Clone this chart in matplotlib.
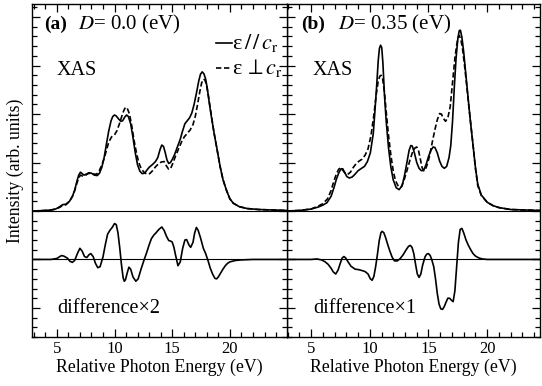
import matplotlib
matplotlib.use("Agg")
import matplotlib.pyplot as plt
from matplotlib.ticker import MultipleLocator, NullFormatter

plt.rcParams['font.family'] = ['Liberation Serif', 'DejaVu Serif']
plt.rcParams['mathtext.fontset'] = 'stix'
plt.rcParams['font.size'] = 12

# ---------------- data ----------------
# Panel (a): D = 0.0 eV, epsilon // c_r (solid)
a_par_x = [3.0, 4.0, 4.5, 4.9, 5.2, 5.5, 5.8, 6.1, 6.35, 6.55, 6.75, 6.9, 7.05, 7.2, 7.35, 7.55, 7.8,
           8.0, 8.25, 8.5, 8.7, 8.9, 9.1, 9.3, 9.5, 9.7, 9.85, 10.0, 10.15, 10.35, 10.55, 10.7, 10.9,
           11.05, 11.2, 11.4, 11.6, 11.8, 12.0, 12.2, 12.4, 12.6, 12.8, 13.0, 13.3, 13.55, 13.75,
           13.95, 14.1, 14.25, 14.4, 14.55, 14.7, 14.85, 15.0, 15.2, 15.45, 15.7, 15.9, 16.1, 16.3,
           16.5, 16.7, 16.9, 17.1, 17.3, 17.45, 17.6, 17.75, 17.9, 18.05, 18.2, 18.4, 18.65, 18.9,
           19.15, 19.4, 19.7, 20.0, 20.3, 20.8, 21.5, 22.5, 24.95]
a_par_y = [0.0, 0.01, 0.02, 0.04, 0.08, 0.13, 0.14, 0.2, 0.3, 0.43, 0.62, 0.74, 0.8, 0.77, 0.74, 0.76,
           0.79, 0.78, 0.74, 0.73, 0.78, 0.9, 1.1, 1.38, 1.65, 1.86, 1.95, 1.98, 1.96, 1.9, 1.85, 1.86,
           1.94, 1.98, 1.95, 1.8, 1.52, 1.2, 0.95, 0.82, 0.77, 0.78, 0.84, 0.9, 0.96, 1.02, 1.1,
           1.27, 1.36, 1.33, 1.2, 1.05, 0.98, 1.0, 1.06, 1.16, 1.32, 1.48, 1.65, 1.8, 1.86,
           1.92, 2.02, 2.2, 2.43, 2.68, 2.82, 2.87, 2.83, 2.72, 2.52, 2.25, 1.94, 1.58, 1.26,
           0.92, 0.65, 0.43, 0.25, 0.16, 0.09, 0.05, 0.03, 0.01]

# Panel (a): epsilon perp c_r (dashed)
a_perp_x = [3.0, 4.0, 4.5, 4.9, 5.2, 5.5, 5.8, 6.1, 6.35, 6.55, 6.75, 6.9, 7.05, 7.25, 7.45, 7.7, 7.95,
            8.2, 8.45, 8.7, 8.9, 9.1, 9.3, 9.5, 9.75, 10.0, 10.2, 10.4, 10.6, 10.8, 10.95, 11.1, 11.3,
            11.5, 11.7, 11.9, 12.1, 12.3, 12.55, 12.8, 13.05, 13.3, 13.55, 13.8, 14.05, 14.3, 14.5,
            14.7, 14.85, 15.05, 15.3, 15.55, 15.8, 16.05, 16.3, 16.55, 16.8, 17.0, 17.2, 17.4, 17.55,
            17.7, 17.85, 18.0, 18.15, 18.35, 18.6, 18.9, 19.15, 19.4, 19.7, 20.0, 20.3, 20.8, 21.5,
            22.5, 24.95]
a_perp_y = [0.0, 0.01, 0.02, 0.04, 0.07, 0.11, 0.13, 0.2, 0.3, 0.42, 0.58, 0.68, 0.74, 0.72, 0.73,
            0.77, 0.78, 0.76, 0.76, 0.84, 0.95, 1.08, 1.25, 1.42, 1.53, 1.57, 1.65, 1.78, 1.93, 2.07,
            2.14, 2.12, 2.0, 1.75, 1.45, 1.2, 1.0, 0.88, 0.8, 0.76, 0.77, 0.83, 0.91, 0.97, 1.01,
            1.02, 0.93, 0.86, 0.87, 0.98, 1.14, 1.28, 1.42, 1.53, 1.6, 1.67, 1.78, 1.95, 2.2, 2.47,
            2.64, 2.72, 2.7, 2.56, 2.36, 2.04, 1.65, 1.25, 0.92, 0.65, 0.43, 0.25, 0.16, 0.09, 0.05,
            0.03, 0.01]

# Panel (a): difference x2 (relative to its own baseline)
a_diff_x = [2.85, 4.5, 5.0, 5.2, 5.4, 5.6, 5.9, 6.15, 6.35, 6.55, 6.8, 7.0, 7.2, 7.4, 7.6, 7.8, 7.95,
            8.15, 8.35, 8.55, 8.75, 9.0, 9.2, 9.4, 9.6, 9.8, 10.0, 10.15, 10.3, 10.45, 10.6, 10.75,
            10.85, 10.95, 11.1, 11.25, 11.4, 11.6, 11.85, 12.05, 12.3, 12.55, 12.8, 13.0, 13.2, 13.4,
            13.6, 13.85, 14.1, 14.3, 14.5, 14.7, 14.85, 15.0, 15.15, 15.3, 15.5, 15.7, 15.9, 16.1,
            16.25, 16.45, 16.6, 16.8, 16.95, 17.1, 17.25, 17.45, 17.7, 17.9, 18.1, 18.3, 18.5, 18.7,
            18.85, 19.0, 19.2, 19.4, 19.6, 19.8, 20.0, 20.5, 21.0, 22.0, 24.95]
a_diff_y = [0.0, 0.0, 0.02, 0.05, 0.08, 0.07, 0.03, -0.04, -0.06, -0.02, 0.13, 0.23, 0.17, 0.06, 0.04,
            0.1, 0.12, 0.06, -0.08, -0.17, -0.15, 0.05, 0.3, 0.52, 0.6, 0.66, 0.74, 0.72, 0.55, 0.25,
            -0.1, -0.38, -0.45, -0.42, -0.28, -0.16, -0.2, -0.36, -0.45, -0.4, -0.2, -0.02, 0.15,
            0.3, 0.43, 0.5, 0.55, 0.62, 0.67, 0.6, 0.48, 0.39, 0.38, 0.36, 0.25, 0.08, -0.13, -0.05,
            0.22, 0.4, 0.41, 0.3, 0.25, 0.35, 0.55, 0.66, 0.6, 0.45, 0.23, 0.12, -0.02, -0.18, -0.3,
            -0.39, -0.4, -0.36, -0.28, -0.2, -0.13, -0.08, -0.05, -0.02, -0.01, 0.0, 0.0]

# Panel (b): D = 0.35 eV, epsilon // c_r (solid)
b_par_x = [2.95, 4.0, 5.0, 5.6, 6.0, 6.35, 6.7, 6.95, 7.15, 7.35, 7.55, 7.7, 7.85, 8.05, 8.25, 8.5,
           8.75, 9.0, 9.3, 9.55, 9.8, 10.05, 10.3, 10.45, 10.6, 10.72, 10.82, 10.92, 11.02, 11.12,
           11.25, 11.4, 11.6, 11.8, 12.0, 12.25, 12.5, 12.75, 12.95, 13.15, 13.35, 13.5, 13.62,
           13.8, 14.0, 14.2, 14.4, 14.6, 14.8, 15.0, 15.2, 15.4, 15.55, 15.75, 15.95, 16.15, 16.35,
           16.55, 16.75, 16.9, 17.05, 17.2, 17.35, 17.5, 17.62, 17.72, 17.85, 18.0, 18.15, 18.35,
           18.55, 18.75, 19.0, 19.2, 19.5, 20.0, 20.5, 21.0, 22.0, 24.5]
b_par_y = [0.0, 0.01, 0.04, 0.08, 0.12, 0.17, 0.3, 0.48, 0.65, 0.78, 0.87, 0.87, 0.8, 0.71, 0.68, 0.7,
           0.76, 0.83, 0.88, 0.92, 1.02, 1.2, 1.6, 2.1, 2.63, 3.1, 3.35, 3.42, 3.37, 3.05, 2.4,
           1.85, 1.3, 0.9, 0.64, 0.48, 0.44, 0.52, 0.72, 0.98, 1.25, 1.35, 1.34, 1.2, 1.0, 0.88,
           0.83, 0.84, 0.96, 1.12, 1.25, 1.32, 1.31, 1.2, 1.03, 0.92, 0.88, 0.92, 1.1, 1.35, 1.85,
           2.55, 3.15, 3.55, 3.72, 3.73, 3.58, 3.28, 2.9, 2.4, 1.9, 1.46, 0.9, 0.55, 0.33, 0.18,
           0.11, 0.07, 0.03, 0.01]

# Panel (b): epsilon perp c_r (dashed)
b_perp_x = [2.95, 4.0, 5.0, 5.6, 6.0, 6.4, 6.7, 6.95, 7.15, 7.35, 7.5, 7.7, 7.9, 8.1, 8.35, 8.6, 8.85,
            9.1, 9.35, 9.6, 9.85, 10.1, 10.35, 10.55, 10.72, 10.85, 10.97, 11.1, 11.25, 11.4, 11.6,
            11.8, 12.0, 12.2, 12.45, 12.7, 12.9, 13.15, 13.4, 13.65, 13.85, 14.0, 14.15, 14.3, 14.45,
            14.6, 14.75, 14.95, 15.15, 15.35, 15.55, 15.75, 15.95, 16.1, 16.25, 16.45, 16.65, 16.85,
            17.05, 17.25, 17.4, 17.52, 17.62, 17.75, 17.9, 18.05, 18.2, 18.4, 18.6, 18.8, 19.0, 19.2,
            19.5, 20.0, 20.5, 21.0, 22.0, 24.5]
b_perp_y = [0.0, 0.01, 0.04, 0.1, 0.15, 0.25, 0.42, 0.62, 0.76, 0.86, 0.89, 0.84, 0.78, 0.75, 0.8,
            0.9, 0.98, 1.03, 1.07, 1.15, 1.28, 1.55, 1.98, 2.4, 2.68, 2.78, 2.8, 2.72, 2.45, 2.05,
            1.55, 1.15, 0.82, 0.62, 0.5, 0.5, 0.62, 0.82, 1.03, 1.22, 1.3, 1.32, 1.25, 1.08, 0.9,
            0.83, 0.86, 1.0, 1.2, 1.45, 1.68, 1.88, 2.01, 2.0, 1.92, 1.85, 1.92, 2.15, 2.65, 3.15,
            3.42, 3.58, 3.62, 3.55, 3.35, 3.05, 2.72, 2.25, 1.8, 1.35, 0.88, 0.52, 0.32, 0.18, 0.11,
            0.07, 0.03, 0.01]

# Panel (b): difference x1 (relative to its own baseline)
b_diff_x = [2.95, 5.0, 5.5, 5.9, 6.2, 6.45, 6.7, 6.9, 7.1, 7.3, 7.5, 7.65, 7.8, 7.95, 8.15, 8.4, 8.75,
            9.05, 9.35, 9.6, 9.85, 10.05, 10.2, 10.35, 10.5, 10.65, 10.8, 10.95, 11.05, 11.2, 11.35,
            11.5, 11.7, 11.9, 12.1, 12.35, 12.6, 12.85, 13.1, 13.3, 13.45, 13.6, 13.75, 13.9, 14.05,
            14.2, 14.35, 14.5, 14.7, 14.85, 15.0, 15.15, 15.3, 15.45, 15.6, 15.75, 15.9, 16.05, 16.2,
            16.35, 16.5, 16.65, 16.8, 16.95, 17.1, 17.25, 17.4, 17.55, 17.7, 17.85, 18.0, 18.2, 18.4,
            18.6, 18.8, 19.0, 19.3, 19.6, 20.0, 21.0, 22.0, 24.5]
b_diff_y = [0.0, 0.0, 0.01, -0.01, -0.05, -0.1, -0.18, -0.26, -0.3, -0.22, -0.07, 0.03, 0.06, 0.03,
            -0.05, -0.14, -0.2, -0.21, -0.23, -0.25, -0.3, -0.4, -0.43, -0.35, -0.15, 0.1, 0.38,
            0.55, 0.58, 0.55, 0.45, 0.33, 0.18, 0.05, -0.03, -0.03, 0.02, 0.1, 0.2, 0.27, 0.29, 0.25,
            0.12, -0.1, -0.3, -0.37, -0.3, -0.12, 0.05, 0.11, 0.12, 0.08, -0.02, -0.15, -0.4, -0.7,
            -0.92, -1.02, -1.03, -0.97, -0.88, -0.8, -0.8, -0.84, -0.87, -0.65, -0.15, 0.35, 0.62,
            0.64, 0.55, 0.4, 0.29, 0.2, 0.12, 0.07, 0.03, 0.01, 0.0, 0.0, 0.0, 0.0]

diff_offset = -1.0
panel_letters = ['(a)', '(b)']
panel_D = [r'$D$= 0.0 (eV)', r'$D$= 0.35 (eV)']
diff_labels = ['difference×2', 'difference×1']
legend_labels = [r'ε$\,/\,/\,c_{\rm r}$', r'ε$\,\perp c_{\rm r}$']
xticks = [5, 10, 15, 20]
xlims = [(2.85, 24.95), (2.95, 24.5)]
ylim = (-2.6, 4.27)

# ---------------- figure ----------------
W, H = 542, 386
fig = plt.figure(figsize=(W / 100, H / 100), dpi=100)
axA = fig.add_axes([32 / W, 49 / H, 255 / W, 333 / H])
axB = fig.add_axes([287 / W, 49 / H, 253 / W, 333 / H])
axA.set_zorder(3)

lw = 1.2
dash = (0, (3.2, 1.6))
data = [
    (a_par_x, a_par_y, a_perp_x, a_perp_y, a_diff_x, a_diff_y),
    (b_par_x, b_par_y, b_perp_x, b_perp_y, b_diff_x, b_diff_y),
]
for i, (ax, d) in enumerate(zip([axA, axB], data)):
    px, py, qx, qy, dx, dy = d
    ax.plot(px, py, color='black', lw=lw, solid_joinstyle='round')
    ax.plot(qx, qy, color='black', lw=lw, linestyle=dash)
    ax.plot(dx, [v + diff_offset for v in dy], color='black', lw=lw, solid_joinstyle='round')
    ax.axhline(0, color='black', lw=0.8)
    ax.axhline(diff_offset, color='black', lw=0.8)
    ax.set_xlim(*xlims[i])
    ax.set_ylim(*ylim)
    ax.set_xticks(xticks)
    ax.set_xticklabels([str(t) for t in xticks])
    ax.xaxis.set_minor_locator(MultipleLocator(1))
    ax.yaxis.set_major_locator(MultipleLocator(1))
    ax.yaxis.set_minor_locator(MultipleLocator(0.2))
    ax.yaxis.set_major_formatter(NullFormatter())
    ax.tick_params(which='both', direction='in', top=True, right=True, left=True, bottom=True,
                   width=0.9, colors='black', labelsize=12, pad=3)
    ax.tick_params(which='major', length=6)
    ax.tick_params(which='minor', length=3.5)
    for s in ax.spines.values():
        s.set_linewidth(1.0)
    ax.set_xlabel('Relative Photon Energy (eV)', fontsize=12.8, labelpad=1)
    ax.text(0.046 if i == 0 else 0.057, 0.939, panel_letters[i], transform=ax.transAxes,
            fontsize=14, fontweight='bold', va='center', ha='left')
    ax.text(0.18 if i == 0 else 0.20, 0.939, panel_D[i], transform=ax.transAxes,
            fontsize=15, va='center', ha='left')
    ax.text(0.098 if i == 0 else 0.103, 0.80, 'XAS', transform=ax.transAxes,
            fontsize=14.5, va='center', ha='left')
    ax.text(0.1 if i == 0 else 0.103, 0.087, diff_labels[i], transform=ax.transAxes,
            fontsize=14.5, va='center', ha='left')

axA.set_ylabel('Intensity (arb. units)', fontsize=12.8, labelpad=3)

# legend keys and labels (top right of panel a)
leg_rows = [0.883, 0.808]
leg_styles = ['-', dash]
for yy, st, lab in zip(leg_rows, leg_styles, legend_labels):
    axA.plot([0.722, 0.785], [yy, yy], transform=axA.transAxes, color='black', lw=lw,
             linestyle=st, clip_on=False)
    axA.text(0.786, yy, lab, transform=axA.transAxes, fontsize=16, va='center', ha='left')

fig.savefig('out.png', dpi=100)
